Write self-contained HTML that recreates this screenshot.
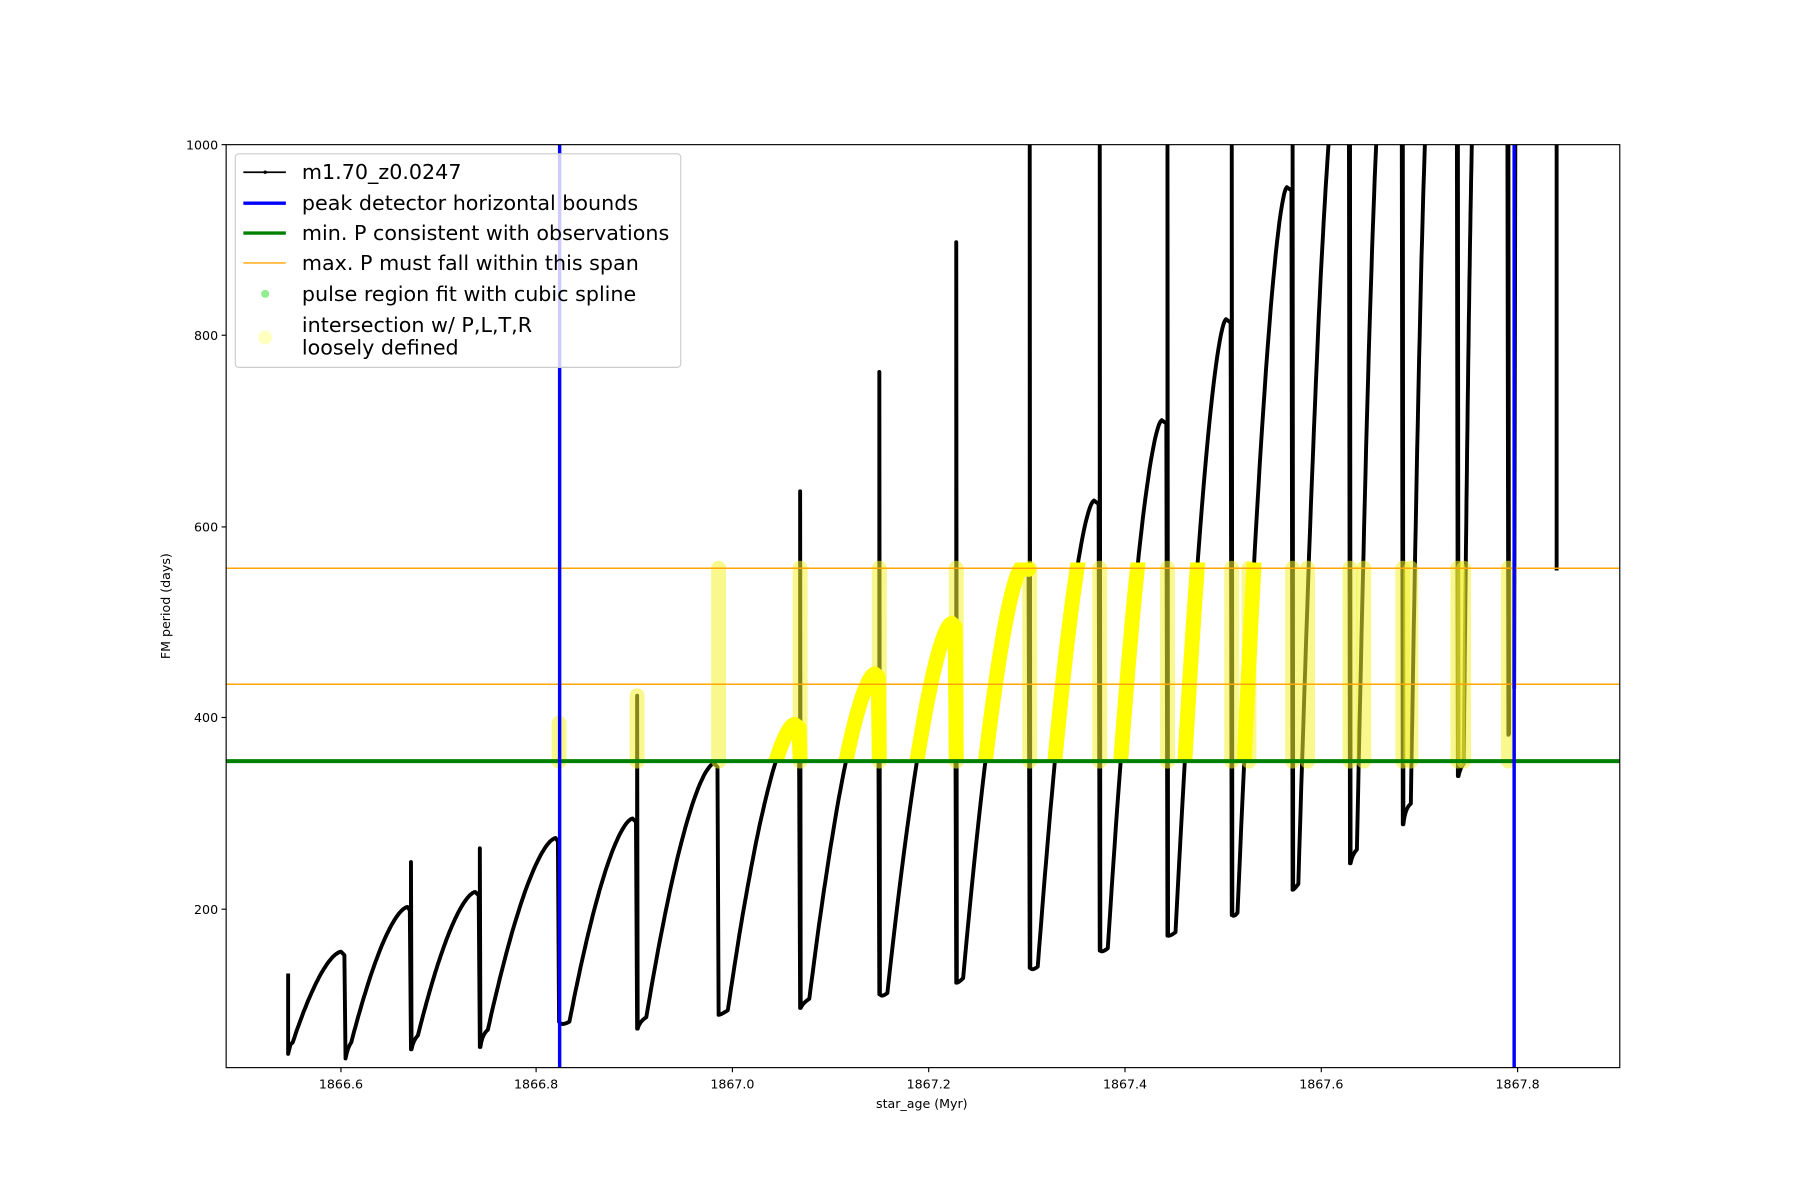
<!DOCTYPE html>
<html><head><meta charset="utf-8"><style>
html,body{margin:0;padding:0;background:#fff;width:1800px;height:1200px;overflow:hidden}
svg{display:block}
text{font-family:"DejaVu Sans","Liberation Sans",sans-serif;fill:#000}
</style></head><body>
<svg id="s" width="1800" height="1200" viewBox="0 0 1568 1045.3" xmlns="http://www.w3.org/2000/svg">
<defs><clipPath id="ax"><rect x="197" y="126" width="1214" height="804"/></clipPath>
<clipPath id="band"><rect x="197" y="490" width="1214" height="173"/></clipPath></defs>
<rect x="0" y="0" width="1568" height="1046" fill="#fff"/>
<g id="plot" clip-path="url(#ax)"></g>
<rect x="197" y="126" width="1214" height="804" fill="none" stroke="#000" stroke-width="1"/>
<g id="ticks" font-size="11"></g>
<text x="803" y="965" font-size="11" text-anchor="middle">star_age (Myr)</text>
<text transform="translate(148,528) rotate(-90)" font-size="11" text-anchor="middle">FM period (days)</text>
<g>
<rect x="205" y="134" width="388" height="186" rx="3" fill="#fff" fill-opacity="0.8" stroke="#ccc"/>
<line x1="212" y1="150" x2="249" y2="150" stroke="#000" stroke-width="1.5"/><circle cx="231" cy="150" r="1.5"/>
<text x="263" y="156" font-size="18">m1.70_z0.0247</text>
<line x1="212" y1="177" x2="249" y2="177" stroke="#0000ff" stroke-width="3"/>
<text x="263" y="183" font-size="18">peak detector horizontal bounds</text>
<line x1="212" y1="203" x2="249" y2="203" stroke="#008000" stroke-width="3"/>
<text x="263" y="209" font-size="18">min. P consistent with observations</text>
<line x1="212" y1="229" x2="249" y2="229" stroke="#ffa500" stroke-width="1.2"/>
<text x="263" y="235" font-size="18">max. P must fall within this span</text>
<circle cx="231" cy="256" r="3.5" fill="#90ee90"/>
<text x="263" y="262" font-size="18">pulse region fit with cubic spline</text>
<circle cx="231" cy="294" r="6" fill="#ffff00" fill-opacity="0.25"/>
<text x="263" y="289" font-size="18">intersection w/ P,L,T,R</text>
<text x="263" y="309" font-size="18">loosely defined</text>
</g>
</svg>
<script>
var NS="http://www.w3.org/2000/svg";
function el(p,t,a){var e=document.createElementNS(NS,t);for(var k in a)e.setAttribute(k,a[k]);p.appendChild(e);return e;}
var plot=document.getElementById('plot'),ticks=document.getElementById('ticks');
var xt=[[297,'1866.6'],[467,'1866.8'],[638,'1867.0'],[809,'1867.2'],[980,'1867.4'],[1151,'1867.6'],[1322,'1867.8']];
xt.forEach(function(t){el(ticks,'line',{x1:t[0],y1:930,x2:t[0],y2:934,stroke:'#000'});var tx=el(ticks,'text',{x:t[0],y:948,'text-anchor':'middle'});tx.textContent=t[1];});
var yt=[[126,'1000'],[292,'800'],[459,'600'],[625,'400'],[792,'200']];
yt.forEach(function(t){el(ticks,'line',{x1:193,y1:t[0],x2:197,y2:t[0],stroke:'#000'});var tx=el(ticks,'text',{x:190,y:t[0]+4,'text-anchor':'end'});tx.textContent=t[1];});
var C=[[255,908,297,829,301,922,0],[306,908,355,790,358,914,751],[364,902,414,777,418,912,739],[425,897,484,730,487,890,0],
[496,890,551,713,555,896,606],[563,886,622,665,626,884,0],[634,880,692,631,697,878,428],[705,870,762,587,766,866,324],
[773,865,829,543,833,856,211],[839,852,891,493,897,843,120],[904,842,953,436,958,828,120],[965,826,1012,366,1017,815,120],
[1024,812,1068,278,1073,797,120],[1078,795,1121,163,1126,775,120],[1131,770,1165,60,1176,752,120],[1182,740,1205,40,1222,718,120],
[1229,700,1246,40,1270,676,120],[1275,665,1285,40,1314,640,120]];
function rise(c){var pts=[];for(var i=0;i<=40;i++){var u=i/40;var f=1-Math.pow(1-u,1.6);pts.push([c[0]+(c[2]-c[0])*u,c[1]+(c[3]-c[1])*f]);}return pts;}
var d='M251,848 L251,918 L253,910 ';
var yel='';
C.forEach(function(c,i){var p=rise(c);
 d+='L'+p.map(function(q){return q[0].toFixed(1)+','+q[1].toFixed(1)}).join(' L')+' ';
 d+='L'+(c[4]-1)+','+(c[3]+3)+' L'+c[4]+','+c[5]+' ';
 if(c[6])d+='L'+c[4]+','+c[6]+' L'+(c[4]+0.5)+','+c[5]+' ';
 var n=C[i+1];
 if(n){d+='Q'+(c[4]+2)+','+(n[1]+4)+' '+n[0]+','+n[1]+' ';}
 if(i>=6&&i<=13){yel+='M'+p.map(function(q){return q[0].toFixed(1)+','+q[1].toFixed(1)}).join(' L')+' L'+(c[4]-1)+','+(c[3]+3)+' '+(i<=8?'L'+c[4]+',663 ':'');}
});
d+='M1319,600 L1320,126 M1356,126 L1356,497';
var bars=[[487,630],[555,606],[626,495],[697,495],[766,495],[833,495],[897,495],[958,495],[1017,495],[1073,495],[1088,495],[1126,495],[1139,495],[1176,495],[1188,495],[1222,495],[1229,495],[1270,495],[1275,495],[1314,495]];
el(plot,'path',{d:d,fill:'none',stroke:'#000','stroke-width':3.4,'stroke-linejoin':'round'});
var bg=el(plot,'g',{});
bars.forEach(function(b){el(bg,'line',{x1:b[0],y1:b[1],x2:b[0],y2:663,stroke:'#f2f230','stroke-opacity':0.55,'stroke-width':13,'stroke-linecap':'round'});});
el(plot,'path',{d:yel,fill:'none',stroke:'#ffff00','stroke-width':13,'stroke-linecap':'round','stroke-linejoin':'round','clip-path':'url(#band)'});
el(plot,'line',{x1:197,y1:495,x2:1411,y2:495,stroke:'#ffa500','stroke-width':1.3});
el(plot,'line',{x1:197,y1:596,x2:1411,y2:596,stroke:'#ffa500','stroke-width':1.3});
el(plot,'line',{x1:197,y1:663,x2:1411,y2:663,stroke:'#008000','stroke-width':3.5});
el(plot,'line',{x1:487.5,y1:126,x2:487.5,y2:930,stroke:'#0000ff','stroke-width':3});
el(plot,'line',{x1:1319,y1:126,x2:1319,y2:930,stroke:'#0000ff','stroke-width':3});
</script>
</body></html>
